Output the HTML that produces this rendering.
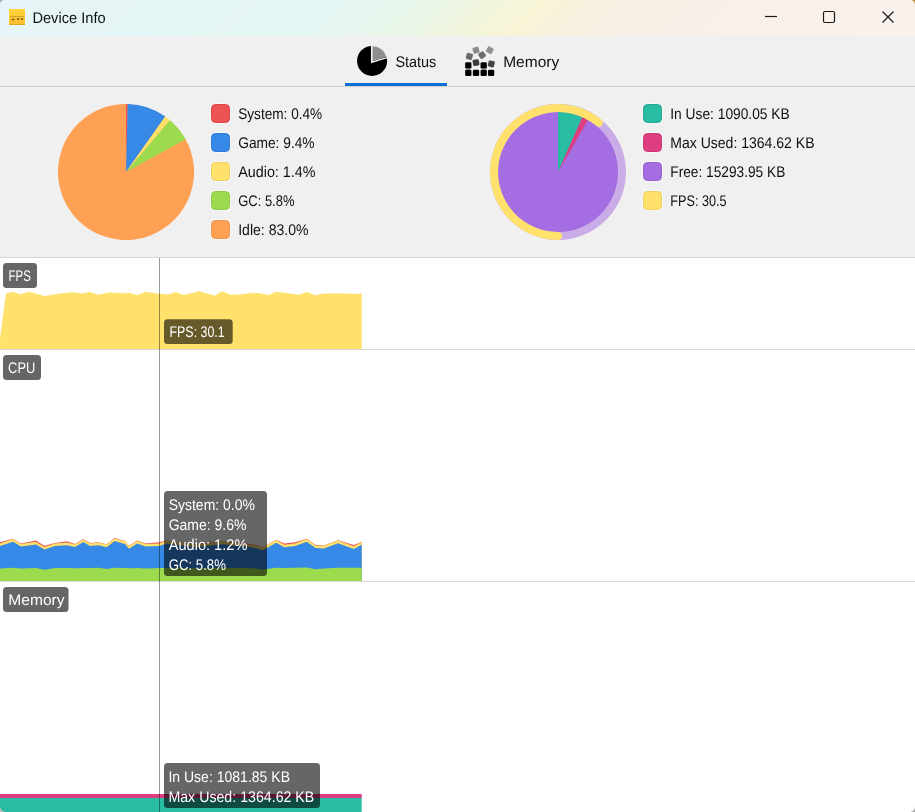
<!DOCTYPE html>
<html lang="en"><head><meta charset="utf-8"><title>Device Info</title>
<style>html,body{margin:0;padding:0;background:#fff;overflow:hidden}svg{display:block}text{white-space:pre}</style></head>
<body>
<svg width="915" height="812" viewBox="0 0 915 812" font-family="'Liberation Sans', sans-serif" text-rendering="geometricPrecision">
<defs>
<linearGradient id="tb" gradientUnits="userSpaceOnUse" x1="0" y1="0" x2="419" y2="465">
<stop offset="0" stop-color="#e6f5f7"/>
<stop offset="0.36" stop-color="#e4f6f4"/>
<stop offset="0.46" stop-color="#e9f6e9"/>
<stop offset="0.535" stop-color="#f2f5dc"/>
<stop offset="0.585" stop-color="#f8f4d6"/>
<stop offset="0.64" stop-color="#f8f0e0"/>
<stop offset="0.76" stop-color="#f8f0e8"/>
<stop offset="1" stop-color="#f9f1ec"/>
</linearGradient>
<linearGradient id="ic" x1="0" y1="0" x2="0" y2="1">
<stop offset="0" stop-color="#ffd53d"/><stop offset="1" stop-color="#ffbf2c"/>
</linearGradient>
</defs>
<rect x="0" y="0" width="915" height="812" fill="#ffffff"/>
<rect x="0" y="0" width="915" height="36" fill="url(#tb)"/>
<rect x="0" y="36" width="915" height="221" fill="#f0f0f0"/>
<rect x="0" y="86" width="915" height="1" fill="#cfcfcf"/>
<rect x="0" y="257" width="915" height="1" fill="#d6d6d6"/>
<rect x="0" y="349" width="915" height="1" fill="#d8d8d8"/>
<rect x="0" y="581" width="915" height="1" fill="#d8d8d8"/>
<g>
<rect x="9" y="9" width="16" height="16" rx="1" fill="url(#ic)"/>
<rect x="9" y="24" width="16" height="1" fill="#dfa41f"/>
<rect x="10" y="16" width="14" height="1" fill="#c9a32c"/>
<rect x="11" y="19" width="4" height="1" fill="#8f6f14"/>
<rect x="12.5" y="17.4" width="1" height="4.2" fill="#8f6f14" opacity="0.55"/>
<rect x="17" y="18" width="2.4" height="2" fill="#8f6f14"/>
<rect x="21" y="18" width="2.2" height="2" fill="#8f6f14"/>
</g>
<text x="32.4" y="22.9" textLength="73.2" lengthAdjust="spacingAndGlyphs" font-size="15.4" fill="#101010" >Device Info</text>
<g stroke="#1a1a1a" stroke-width="1.2" fill="none">
<path d="M765,16.5H777"/>
<rect x="823.5" y="11.5" width="11" height="11" rx="1.5"/>
<path d="M882.5,11.5L893.5,22.5M893.5,11.5L882.5,22.5"/>
</g>
<rect x="345" y="83" width="102" height="3" fill="#0c6fd6"/>
<circle cx="372.1" cy="60.9" r="15" fill="#000"/>
<path d="M372.1,60.9L372.10,45.40A15.5,15.5 0 0 1 386.92,56.37Z" fill="#f0f0f0"/>
<path d="M372.40000000000003,60.6L372.40,46.30A14.3,14.3 0 0 1 386.08,56.42Z" fill="#8e8e8e"/>
<path d="M371.7,45V62.3L387.8,57.4" fill="none" stroke="#f0f0f0" stroke-width="1.5" stroke-linejoin="miter"/>
<text x="395.4" y="66.8" textLength="40.9" lengthAdjust="spacingAndGlyphs" font-size="15.4" fill="#101010" >Status</text>
<rect x="465.15" y="69.65" width="6.3" height="6.3" rx="1.3" fill="#000" transform="rotate(0 468.3 72.8)"/>
<rect x="472.85" y="69.65" width="6.3" height="6.3" rx="1.3" fill="#000" transform="rotate(0 476.0 72.8)"/>
<rect x="480.55" y="69.65" width="6.3" height="6.3" rx="1.3" fill="#000" transform="rotate(0 483.7 72.8)"/>
<rect x="487.95" y="69.65" width="6.3" height="6.3" rx="1.3" fill="#000" transform="rotate(0 491.1 72.8)"/>
<rect x="466.0" y="68.3" width="4.6" height="1.6" fill="#000" fill-opacity="0.28"/>
<rect x="481.4" y="68.3" width="4.6" height="1.6" fill="#000" fill-opacity="0.28"/>
<rect x="465.15" y="62.25" width="6.3" height="6.3" rx="1.3" fill="#000" transform="rotate(0 468.3 65.4)"/>
<rect x="480.55" y="62.25" width="6.3" height="6.3" rx="1.3" fill="#000" transform="rotate(0 483.7 65.4)"/>
<rect x="472.85" y="59.45" width="6.3" height="6.3" rx="1.3" fill="#3c3c3c" transform="rotate(-10 476.0 62.6)"/>
<rect x="488.15" y="60.75" width="6.3" height="6.3" rx="1.3" fill="#444" transform="rotate(15 491.3 63.9)"/>
<rect x="466.25" y="53.25" width="6.3" height="6.3" rx="1.3" fill="#6a6a6a" transform="rotate(15 469.4 56.4)"/>
<rect x="478.95" y="51.95" width="6.3" height="6.3" rx="1.3" fill="#6e6e6e" transform="rotate(-35 482.1 55.1)"/>
<rect x="472.85" y="47.05" width="6.3" height="6.3" rx="1.3" fill="#8c8c8c" transform="rotate(-15 476.0 50.2)"/>
<rect x="486.65" y="47.05" width="6.3" height="6.3" rx="1.3" fill="#909090" transform="rotate(30 489.8 50.2)"/>
<text x="503.2" y="66.8" textLength="56" lengthAdjust="spacingAndGlyphs" font-size="15.4" fill="#101010" >Memory</text>
<circle cx="126" cy="172" r="67.5" fill="#ffa154"/>
<path d="M126,172L184.89,138.00A68,68 0 1 1 126.00,104.00Z" fill="#ffa154"/>
<path d="M126,172L126.00,104.00A68,68 0 0 1 127.71,104.02Z" fill="#ed5353"/>
<path d="M126,172L127.71,104.02A68,68 0 0 1 165.27,116.49Z" fill="#3689e6"/>
<path d="M126,172L165.27,116.49A68,68 0 0 1 170.00,120.15Z" fill="#ffe16b"/>
<path d="M126,172L170.00,120.15A68,68 0 0 1 185.59,139.24Z" fill="#9bdb4d"/>
<rect x="210.5" y="103.5" width="20" height="20" rx="5" fill="none" stroke="#fff" stroke-opacity="0.55" stroke-width="1"/><rect x="211.5" y="104.5" width="18" height="18" rx="4" fill="#ed5353" stroke="#d94646" stroke-width="1"/>
<text x="238.2" y="118.8" textLength="84" lengthAdjust="spacingAndGlyphs" font-size="15.4" fill="#101010" >System: 0.4%</text>
<rect x="210.5" y="132.5" width="20" height="20" rx="5" fill="none" stroke="#fff" stroke-opacity="0.55" stroke-width="1"/><rect x="211.5" y="133.5" width="18" height="18" rx="4" fill="#3689e6" stroke="#2f7bd3" stroke-width="1"/>
<text x="238.2" y="147.8" textLength="76.4" lengthAdjust="spacingAndGlyphs" font-size="15.4" fill="#101010" >Game: 9.4%</text>
<rect x="210.5" y="161.5" width="20" height="20" rx="5" fill="none" stroke="#fff" stroke-opacity="0.55" stroke-width="1"/><rect x="211.5" y="162.5" width="18" height="18" rx="4" fill="#ffe16b" stroke="#ecd060" stroke-width="1"/>
<text x="238.2" y="176.8" textLength="77.3" lengthAdjust="spacingAndGlyphs" font-size="15.4" fill="#101010" >Audio: 1.4%</text>
<rect x="210.5" y="190.5" width="20" height="20" rx="5" fill="none" stroke="#fff" stroke-opacity="0.55" stroke-width="1"/><rect x="211.5" y="191.5" width="18" height="18" rx="4" fill="#9bdb4d" stroke="#8dc946" stroke-width="1"/>
<text x="238.2" y="205.8" textLength="56.3" lengthAdjust="spacingAndGlyphs" font-size="15.4" fill="#101010" >GC: 5.8%</text>
<rect x="210.5" y="219.5" width="20" height="20" rx="5" fill="none" stroke="#fff" stroke-opacity="0.55" stroke-width="1"/><rect x="211.5" y="220.5" width="18" height="18" rx="4" fill="#ffa154" stroke="#ec944c" stroke-width="1"/>
<text x="238.2" y="234.8" textLength="70.3" lengthAdjust="spacingAndGlyphs" font-size="15.4" fill="#101010" >Idle: 83.0%</text>
<g opacity="0.5"><circle cx="558" cy="172" r="68" fill="#a56de2"/><path d="M558,172L558.00,104.00A68,68 0 0 1 585.61,109.86Z" fill="#28bca3"/><path d="M558,172L585.61,109.86A68,68 0 0 1 591.98,113.10Z" fill="#de3e80"/></g>
<circle cx="558" cy="172" r="60" fill="#a56de2"/>
<path d="M558,172L558.00,112.00A60,60 0 0 1 582.36,117.17Z" fill="#28bca3"/>
<path d="M558,172L582.36,117.17A60,60 0 0 1 587.99,120.03Z" fill="#de3e80"/>
<path d="M558.00,236.00A64,64 0 1 1 598.80,122.69" fill="none" stroke="#ffe16b" stroke-width="8" stroke-linecap="round"/>
<rect x="642.5" y="103.5" width="20" height="20" rx="5" fill="none" stroke="#fff" stroke-opacity="0.55" stroke-width="1"/><rect x="643.5" y="104.5" width="18" height="18" rx="4" fill="#28bca3" stroke="#24a892" stroke-width="1"/>
<text x="670.3" y="118.8" textLength="119.4" lengthAdjust="spacingAndGlyphs" font-size="15.4" fill="#101010" >In Use: 1090.05 KB</text>
<rect x="642.5" y="132.5" width="20" height="20" rx="5" fill="none" stroke="#fff" stroke-opacity="0.55" stroke-width="1"/><rect x="643.5" y="133.5" width="18" height="18" rx="4" fill="#de3e80" stroke="#c93874" stroke-width="1"/>
<text x="670.3" y="147.8" textLength="144.2" lengthAdjust="spacingAndGlyphs" font-size="15.4" fill="#101010" >Max Used: 1364.62 KB</text>
<rect x="642.5" y="161.5" width="20" height="20" rx="5" fill="none" stroke="#fff" stroke-opacity="0.55" stroke-width="1"/><rect x="643.5" y="162.5" width="18" height="18" rx="4" fill="#a56de2" stroke="#9562cc" stroke-width="1"/>
<text x="670.3" y="176.8" textLength="115.0" lengthAdjust="spacingAndGlyphs" font-size="15.4" fill="#101010" >Free: 15293.95 KB</text>
<rect x="642.5" y="190.5" width="20" height="20" rx="5" fill="none" stroke="#fff" stroke-opacity="0.55" stroke-width="1"/><rect x="643.5" y="191.5" width="18" height="18" rx="4" fill="#ffe16b" stroke="#ecd060" stroke-width="1"/>
<text x="670.3" y="205.8" textLength="56.3" lengthAdjust="spacingAndGlyphs" font-size="15.4" fill="#101010" >FPS: 30.5</text>
<polygon points="-1.4,349 6,293.5 13,291.8 20.5,294.3 29.4,291.8 44.4,296 60,293.5 73.8,292.2 82,293.5 90,292 98.4,294.8 109,292.5 125,293.2 130.5,293 137.3,295.2 145.5,291.7 159,293.7 168.7,294.5 175.5,292 183.7,295 199.5,291.2 214.5,295.8 222.3,291.2 230.2,294.7 241,294.3 250,293.2 258,293 268.4,295 276,291.8 285.5,293 299,294.7 306.7,292 315,295.2 323.8,293.5 345.6,293.5 355,294 361.7,293.2 361.7,349" fill="#ffe16b"/>
<polygon points="0,581 0,542.2 13,538.8 21,543.6 36,540.5 44.4,545.7 55,543.0 67,541.3 75,544.0 83.3,539.1 90,543.0 98.4,542.2 106.5,544.3 114.7,538.1 125,540.9 129,545.7 137.3,540.5 145.5,543.6 159,542.2 166.8,540.4 181,542.4 196,544.3 210,542.6 223.4,541.2 235.7,542.7 247,543.6 255.6,545.0 262.5,547.3 276.4,539.7 284.3,543.4 295,542.2 306.7,538.8 315.6,545.0 323.8,545.4 338,540.2 353.8,545.0 361.7,541.8 361.7,581" fill="#ed5353"/>
<polygon points="0,581 0,543.5 13,539.1 21,544.0 36,541.8 44.4,547.0 55,543.4 67,542.6 75,544.4 83.3,539.5 90,543.4 98.4,542.6 106.5,544.6 114.7,538.5 125,541.2 129,546.1 137.3,540.9 145.5,544.0 159,543.5 166.8,540.8 181,542.8 196,544.6 210,543.0 223.4,541.6 235.7,543.1 247,544.0 255.6,545.4 262.5,547.6 276.4,540.1 284.3,544.7 295,543.5 306.7,539.1 315.6,545.4 323.8,545.8 338,540.6 353.8,546.3 361.7,542.1 361.7,581" fill="#ffe16b"/>
<polygon points="0,581 0,546.1 13,541.8 21,546.6 36,544.4 44.4,549.6 55,546.0 67,545.2 75,547.0 83.3,542.1 90,546.0 98.4,545.2 106.5,547.2 114.7,541.1 125,543.9 129,548.7 137.3,543.5 145.5,546.6 159,546.1 166.8,543.4 181,545.4 196,547.2 210,545.6 223.4,544.2 235.7,545.7 247,546.6 255.6,548.0 262.5,550.2 276.4,542.7 284.3,547.3 295,546.1 306.7,541.8 315.6,548.0 323.8,548.4 338,543.2 353.8,548.9 361.7,544.8 361.7,581" fill="#3689e6"/>
<polygon points="0,581 0,568.6 13,567.8 21,568.6 36,568.0 44.4,569.8 55,568.0 67,568.0 75,568.2 83.3,568.0 90,568.0 98.4,567.8 106.5,568.9 114.7,567.8 125,568.0 129,568.3 137.3,568.0 145.5,568.6 159,568.0 166.8,568.0 181,568.0 196,568.2 210,568.0 223.4,567.8 235.7,568.0 247,568.0 255.6,568.6 262.5,569.5 276.4,567.8 284.3,568.0 295,567.8 306.7,567.6 315.6,569.3 323.8,568.4 338,567.8 353.8,567.8 361.7,567.8 361.7,581" fill="#9bdb4d"/>
<rect x="0" y="794" width="361.7" height="4" fill="#de3e80"/>
<rect x="0" y="798" width="361.7" height="14" fill="#28bca3"/>
<rect x="159" y="258" width="1" height="554" fill="#000" fill-opacity="0.40"/>
<rect x="3" y="263" width="34" height="25" rx="3.5" fill="#000" fill-opacity="0.6"/>
<text x="8.5" y="280.9" textLength="22.3" lengthAdjust="spacingAndGlyphs" font-size="15.4" fill="#fff" >FPS</text>
<rect x="3" y="355" width="38" height="25" rx="3.5" fill="#000" fill-opacity="0.6"/>
<text x="8.1" y="372.9" textLength="27.2" lengthAdjust="spacingAndGlyphs" font-size="15.4" fill="#fff" >CPU</text>
<rect x="3" y="587" width="65.5" height="25" rx="3.5" fill="#000" fill-opacity="0.6"/>
<text x="8.3" y="604.7" textLength="56.3" lengthAdjust="spacingAndGlyphs" font-size="15.4" fill="#fff" >Memory</text>
<rect x="164" y="319.2" width="68.7" height="24.7" rx="3.5" fill="#000" fill-opacity="0.6"/>
<text x="169.5" y="336.7" textLength="55.2" lengthAdjust="spacingAndGlyphs" font-size="15.4" fill="#fff" >FPS: 30.1</text>
<rect x="164" y="491" width="103" height="85" rx="3.5" fill="#000" fill-opacity="0.6"/>
<text x="168.7" y="509.7" textLength="86.2" lengthAdjust="spacingAndGlyphs" font-size="15.4" fill="#fff" >System: 0.0%</text>
<text x="168.7" y="529.7" textLength="77.7" lengthAdjust="spacingAndGlyphs" font-size="15.4" fill="#fff" >Game: 9.6%</text>
<text x="168.7" y="549.7" textLength="78.7" lengthAdjust="spacingAndGlyphs" font-size="15.4" fill="#fff" >Audio: 1.2%</text>
<text x="168.7" y="569.7" textLength="57.2" lengthAdjust="spacingAndGlyphs" font-size="15.4" fill="#fff" >GC: 5.8%</text>
<rect x="164" y="763" width="156" height="45" rx="3.5" fill="#000" fill-opacity="0.6"/>
<text x="168.4" y="782.0" textLength="121.6" lengthAdjust="spacingAndGlyphs" font-size="15.4" fill="#fff" >In Use: 1081.85 KB</text>
<text x="168.4" y="802.0" textLength="145.9" lengthAdjust="spacingAndGlyphs" font-size="15.4" fill="#fff" >Max Used: 1364.62 KB</text>
<path d="M0,0H4.2A4.2,4.2 0 0 0 0,4.2Z" fill="#a8a8a8"/>
<path d="M915,0H910.5A4.5,4.5 0 0 1 915,4.5Z" fill="#c08a22"/>
<path d="M0,812H6A6,6 0 0 1 0,806Z" fill="#c0c0c0"/>
<path d="M915,812H910A5,5 0 0 0 915,807Z" fill="#a8a8a8"/>
</svg>
</body></html>
